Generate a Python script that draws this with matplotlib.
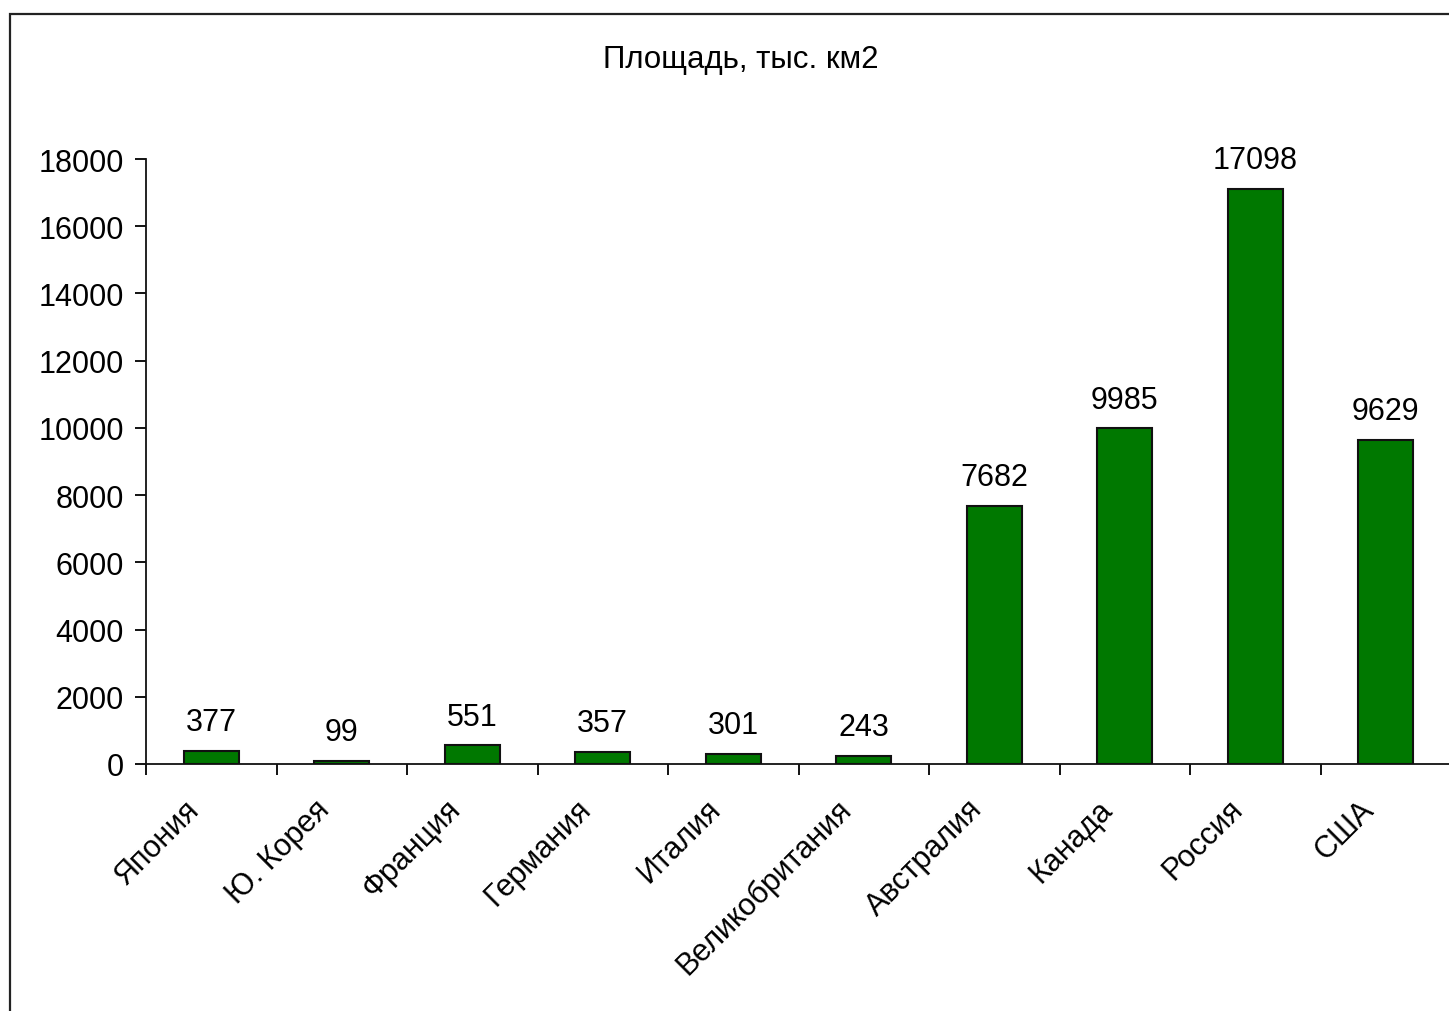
import matplotlib
matplotlib.use("Agg")
import matplotlib.pyplot as plt
from matplotlib.patches import Rectangle

countries = ["Япония", "Ю. Корея", "Франция", "Германия", "Италия",
             "Великобритания", "Австралия", "Канада", "Россия", "США"]
area = [377, 99, 551, 357, 301, 243, 7682, 9985, 17098, 9629]
yticks = [0, 2000, 4000, 6000, 8000, 10000, 12000, 14000, 16000, 18000]
title = "Площадь, тыс. км2"

plt.rcParams['font.family'] = ['Liberation Sans', 'DejaVu Sans']

W, H = 1449, 1012
fig = plt.figure(figsize=(W / 100, H / 100), dpi=100)
fig.patch.set_facecolor('white')

# outer chart frame (cropped on right and bottom)
fig.patches.append(Rectangle((10 / W, -0.05), 1.1, 1 - 15 / H + 0.05,
                             transform=fig.transFigure, fill=False,
                             edgecolor='#222222', linewidth=1.6))

ax = fig.add_axes([146 / W, (H - 765) / H, 1305 / W, 605 / H])
x = list(range(len(countries)))
bars = ax.bar(x, area, width=0.42, color='#007800', edgecolor='#111111', linewidth=1.5)
ax.set_xlim(-0.5, len(countries) - 0.5)
ax.set_ylim(0, 18000)
ax.set_yticks(yticks)
ax.set_yticklabels([str(v) for v in yticks], fontsize=22)
ax.tick_params(axis='y', direction='out', length=8, width=1.3, pad=8)

ax.set_xticks([i - 0.5 for i in range(len(countries) + 1)])
ax.set_xticklabels([])
ax.tick_params(axis='x', direction='out', length=8, width=1.3)
for i, name in enumerate(countries):
    ax.annotate(name, xy=(i, 0), xycoords='data', xytext=(-12, -29),
                textcoords='offset points', rotation=45, rotation_mode='anchor',
                ha='right', va='center', fontsize=22)

for i, v in enumerate(area):
    ax.annotate(str(v), xy=(i, v), xytext=(0, 10), textcoords='offset points',
                ha='center', va='bottom', fontsize=22)

for s in ['top', 'right']:
    ax.spines[s].set_visible(False)
for s in ['left', 'bottom']:
    ax.spines[s].set_linewidth(1.3)
    ax.spines[s].set_color('#111111')

fig.text(741 / W, 1 - 60 / H, title, ha='center', va='center', fontsize=22.5)

fig.savefig("out.png", dpi=100, facecolor='white')
